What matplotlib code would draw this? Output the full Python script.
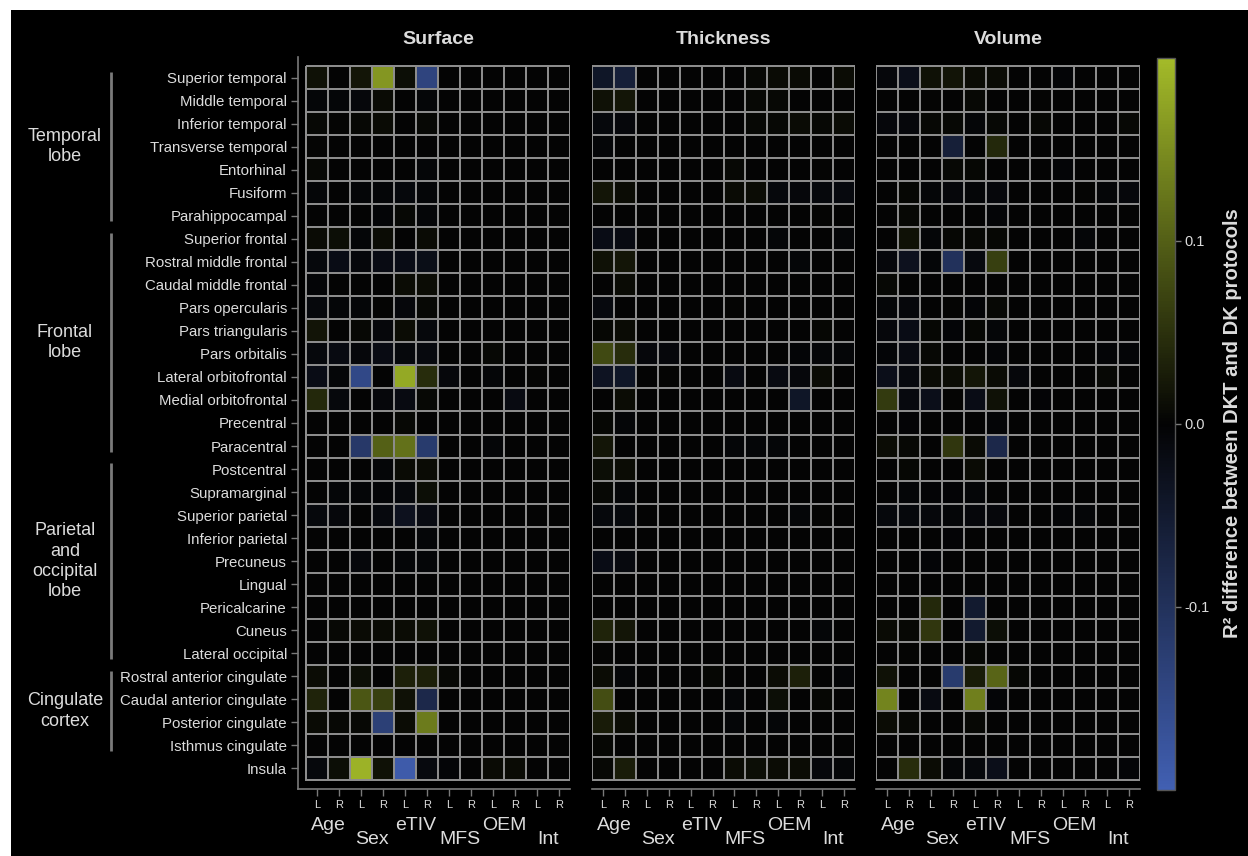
import matplotlib
matplotlib.use("Agg")
import matplotlib.pyplot as plt
import numpy as np
from matplotlib.colors import LinearSegmentedColormap
from matplotlib.patches import Rectangle
from matplotlib.transforms import blended_transform_factory

plt.rcParams['font.family'] = ['Liberation Sans', 'DejaVu Sans']

# ---------------------------------------------------------------- data
regions = [
    "Superior temporal", "Middle temporal", "Inferior temporal", "Transverse temporal",
    "Entorhinal", "Fusiform", "Parahippocampal",
    "Superior frontal", "Rostral middle frontal", "Caudal middle frontal",
    "Pars opercularis", "Pars triangularis", "Pars orbitalis", "Lateral orbitofrontal",
    "Medial orbitofrontal", "Precentral", "Paracentral",
    "Postcentral", "Supramarginal", "Superior parietal", "Inferior parietal",
    "Precuneus", "Lingual", "Pericalcarine", "Cuneus", "Lateral occipital",
    "Rostral anterior cingulate", "Caudal anterior cingulate", "Posterior cingulate",
    "Isthmus cingulate", "Insula",
]
predictors = ["Age", "Sex", "eTIV", "MFS", "OEM", "Int"]
hemis = ["L", "R"]
panel_titles = ["Surface", "Thickness", "Volume"]

lobe_names = ["Temporal\nlobe", "Frontal\nlobe", "Parietal\nand\noccipital\nlobe", "Cingulate\ncortex"]
lobe_first = [0, 7, 17, 26]
lobe_last = [6, 16, 25, 29]

# columns: Age L/R, Sex L/R, eTIV L/R, MFS L/R, OEM L/R, Int L/R
surface_vals = [
    [0.015, 0, 0.02, 0.16, 0.012, -0.14, 0, 0, 0, 0, 0, 0],
    [-0.005, -0.005, -0.008, 0.008, 0, -0.006, 0, 0, 0, 0, 0, 0],
    [0.005, 0.003, 0.006, 0.008, 0, 0.006, 0, 0, 0, 0, 0, 0],
    [0.003, 0, 0, 0, 0, 0, 0, 0, 0, 0, 0, 0],
    [0.006, 0, 0, 0, 0, -0.006, 0, 0, 0, 0, 0, 0],
    [-0.006, 0, -0.006, -0.005, -0.01, -0.005, 0, 0, 0, 0, 0, 0],
    [0, 0, 0, -0.004, 0.006, -0.005, 0, 0, 0, 0, 0, 0],
    [0.008, 0.012, -0.006, 0.01, 0, 0.008, 0, 0, 0, 0, 0, 0],
    [-0.01, -0.02, -0.008, -0.018, -0.02, -0.022, 0, 0, 0, 0, 0, 0],
    [-0.004, 0, 0, 0, 0.01, 0.01, 0, 0, 0, 0, 0, 0],
    [-0.01, -0.005, -0.006, 0.003, -0.008, 0.006, 0, 0, 0, 0, 0, 0],
    [0.018, 0, 0.006, -0.008, 0.01, -0.01, 0, 0, 0, 0, 0, 0],
    [-0.01, -0.015, -0.008, -0.018, -0.01, -0.012, 0, 0, 0.006, 0, 0, 0],
    [-0.02, -0.005, -0.15, 0, 0.18, 0.045, -0.008, 0, -0.006, 0, 0.003, 0],
    [0.04, -0.01, 0, -0.008, -0.015, 0.006, 0, 0, 0, -0.015, 0, 0],
    [0, 0, 0, 0, 0.006, 0, 0, 0, 0, 0, 0, 0],
    [0, 0, -0.115, 0.1, 0.12, -0.12, 0, 0, -0.005, 0, 0, 0],
    [0, 0, 0, -0.006, 0.008, 0.008, 0, 0, 0, 0, 0, 0],
    [0, -0.005, -0.006, -0.004, -0.01, 0.012, 0, 0, 0, 0, 0, 0],
    [-0.01, -0.008, 0, -0.012, -0.03, -0.015, 0, 0, 0, 0, 0, 0],
    [0, 0, 0, 0, 0, -0.005, 0, 0, 0, 0, 0, 0],
    [0, 0, -0.008, 0, -0.005, -0.006, 0, 0, 0, 0, 0, 0],
    [0, 0, 0, 0, 0, 0, 0, 0, 0, 0, 0, 0],
    [0, 0, 0, 0, 0, 0, 0, 0, 0, 0, 0, 0],
    [0, 0.006, 0.008, 0.008, 0.01, 0.015, 0, 0, 0, 0, 0, 0],
    [0, 0, 0, 0, 0, 0, 0, 0, 0, 0, 0, 0],
    [0.01, 0, 0.012, 0, 0.03, 0.03, 0.005, 0, 0, 0, 0, 0],
    [0.035, 0, 0.09, 0.065, 0.015, -0.08, 0, 0, 0, 0, 0, 0],
    [0.008, 0.006, 0.005, -0.13, 0.01, 0.13, 0, 0, 0, 0, 0, 0],
    [0, 0, 0, 0, 0, 0, 0, 0, 0, 0, 0, 0],
    [-0.01, 0.012, 0.19, 0.015, -0.19, -0.012, -0.004, 0, 0.008, 0.008, 0, 0],
]

thickness_vals = [
    [-0.04, -0.06, 0, 0, 0, 0, 0, 0.006, 0.008, 0.008, 0, 0.01],
    [0.015, 0.02, 0, 0, 0, 0, 0, 0.006, 0.006, 0, 0, 0],
    [-0.01, -0.008, 0, 0, 0, 0, 0, 0.006, 0.006, 0.008, 0.006, 0.008],
    [-0.006, 0, 0, 0, 0, 0, 0, 0, 0, 0, 0, 0],
    [0, 0, 0, 0, 0, 0, 0.006, 0, 0, 0, 0.003, 0],
    [0.02, 0.01, 0, 0, 0, 0, 0.008, 0.01, -0.01, -0.008, -0.01, -0.012],
    [0, 0, 0, 0, 0, 0, 0, 0, 0, 0, 0.003, 0],
    [-0.02, -0.015, 0, 0, 0, 0, 0, 0, -0.005, 0, 0, -0.005],
    [0.015, 0.02, 0, 0, 0, 0, 0, 0, 0, -0.006, 0, 0],
    [0, 0.008, 0, 0, 0, 0, 0, 0, 0, 0, 0, 0],
    [-0.012, 0, 0, 0, 0, 0, 0.003, 0, 0, 0, 0, 0],
    [0.004, 0.008, 0, 0, 0, 0, 0, 0, 0, 0, 0.004, 0],
    [0.075, 0.045, -0.008, -0.008, 0, 0, 0, 0, 0, -0.004, -0.006, -0.006],
    [-0.035, -0.04, 0, 0.003, 0, 0, -0.015, 0, -0.015, -0.008, 0.008, 0],
    [0, 0.01, 0, 0, 0, 0, 0, 0, 0, -0.04, 0, 0],
    [0.004, -0.006, 0, 0, 0, 0, 0, 0, 0, 0, 0, 0],
    [0.02, 0, 0, 0, 0, 0, -0.006, -0.006, -0.006, 0, 0, 0],
    [0.012, 0.01, 0, 0, 0, 0, 0, 0, 0, 0, 0, 0],
    [0.006, -0.006, 0, 0, 0, 0, 0, 0, 0, 0, 0, 0],
    [-0.01, -0.01, 0, 0, 0, 0, 0, 0, 0, -0.006, 0.003, 0],
    [0, 0, 0, 0, 0, 0, 0, 0, 0, 0, 0, 0],
    [-0.02, -0.012, 0, 0, 0, 0, 0, 0, 0, 0, 0, 0],
    [0, 0, 0, 0, 0, 0, 0, 0, 0, 0, 0, 0],
    [0, 0, 0, 0, 0, 0, 0, 0, 0, 0, 0, 0],
    [0.035, 0.02, 0, 0, 0, 0, 0, 0, 0, 0, -0.005, 0],
    [0.003, 0, 0, 0, 0, 0, 0, 0, 0, 0, 0, 0],
    [0.01, -0.006, 0, 0, 0, 0.004, 0, 0, 0.01, 0.03, 0, -0.004],
    [0.08, 0, 0, 0, 0, 0, -0.005, 0, 0.012, 0, 0.004, 0],
    [0.025, 0.01, 0, 0, 0, 0, -0.005, 0, -0.005, 0, 0, 0],
    [0.004, 0, 0, 0, 0, 0, 0, 0, 0, 0, 0, 0],
    [0.006, 0.028, 0, 0, 0, 0, 0.01, 0.012, 0.01, 0.01, -0.008, -0.006],
]

volume_vals = [
    [-0.008, -0.025, 0.015, 0.018, 0.01, 0.008, 0, 0, -0.004, 0, 0, 0],
    [0, 0, 0.003, 0, 0.006, 0, 0, 0.003, 0, 0, 0, 0],
    [-0.008, -0.008, 0.006, 0.006, -0.006, 0.005, 0, 0.005, 0, 0, 0, 0.006],
    [0, 0, 0, -0.06, 0, 0.04, 0, 0, 0, 0, 0, 0],
    [0, 0, 0, 0.006, 0.004, 0, 0, 0, -0.004, 0, 0, 0],
    [0, 0.004, -0.006, -0.008, -0.006, -0.008, 0, 0, 0, 0.003, -0.005, -0.008],
    [0, 0.006, 0, 0, 0, -0.004, 0, 0, 0, 0, 0, 0],
    [0, 0.015, -0.006, 0.004, 0.006, 0.004, 0, 0, 0, -0.005, 0, 0],
    [-0.008, -0.03, -0.006, -0.1, -0.012, 0.065, 0, 0, 0, 0, 0, 0],
    [0.006, 0, 0, 0, 0, 0, 0, 0, 0, 0, 0, 0],
    [-0.006, -0.008, 0, 0.003, -0.004, 0.005, 0, 0, 0, 0, 0, 0],
    [-0.008, -0.02, 0.004, -0.004, 0.004, -0.006, 0, 0, 0, 0, 0, 0],
    [-0.004, -0.015, 0.006, 0, 0, -0.004, 0, 0, 0, 0, -0.004, -0.004],
    [-0.025, -0.012, 0.008, 0.01, 0.02, 0.008, -0.008, 0, 0, 0, 0.005, 0],
    [0.06, -0.012, -0.025, 0.003, -0.02, 0.015, 0, -0.003, 0, 0, 0, 0],
    [0, -0.003, 0, 0, 0, -0.004, 0, 0, 0, 0, 0, 0],
    [0.01, 0.006, 0, 0.055, 0.008, -0.08, 0, 0, 0, 0, 0, 0],
    [0, 0.004, 0, 0, 0.008, 0, 0, 0, 0, 0, 0, 0],
    [0, -0.006, -0.003, -0.003, -0.006, 0, 0, 0, 0, 0, 0, 0],
    [-0.01, -0.01, -0.008, -0.006, -0.008, -0.008, 0, 0, -0.004, -0.006, 0, 0],
    [0, 0, 0, -0.003, 0, 0, 0, 0, 0, 0, 0, 0],
    [0, 0, -0.004, 0, 0, 0, 0, 0, 0, 0, 0, 0],
    [0, 0, 0, 0, 0, 0, 0, 0, 0, 0, 0, 0],
    [0, 0, 0.04, 0, -0.05, 0, 0, 0, 0, 0, 0, 0],
    [0.008, 0.006, 0.055, 0, -0.05, 0.012, 0, 0, 0, 0, 0, 0],
    [0, 0.003, 0, 0, 0.004, 0, 0, 0, 0, 0, 0, 0],
    [0.015, 0, 0, -0.12, 0.025, 0.105, 0.004, 0, 0, 0, 0, 0],
    [0.14, 0, -0.015, 0, 0.135, -0.004, 0, 0, 0, 0, 0, 0],
    [0.01, 0.006, 0, 0, 0.006, 0, 0, 0, 0, 0, 0, 0],
    [0, 0, 0, 0, 0, 0, 0, 0, 0, 0, 0, 0],
    [0, 0.045, 0.01, -0.006, -0.01, -0.025, 0, 0, 0, 0, 0, -0.004],
]

# ---------------------------------------------------------------- style
TXT = "#dcdcdc"
LINE = "#8c8c8c"
SPINE = "#7a7a7a"
vmin, vmax = -0.2, 0.2
cmap = LinearSegmentedColormap.from_list(
    "blue_black_olive",
    [(0.0, (0.255, 0.375, 0.70)),
     (0.5, (0.012, 0.012, 0.014)),
     (1.0, (0.64, 0.73, 0.16))])

W, H = 1248, 856
fig = plt.figure(figsize=(W / 100, H / 100), dpi=100, facecolor="white")
fig.add_artist(Rectangle((11 / W, 0), 1 - 11 / W, (H - 10) / H,
                         transform=fig.transFigure, facecolor="black",
                         edgecolor="none", zorder=-10))


def fx(px):
    return px / W


def fy(py):
    return 1 - py / H


n_rows = len(regions)
n_cols = len(predictors) * len(hemis)
cell_h = (780 - 66) / n_rows
pad_rows = 9 / cell_h
ax_top, ax_bot = 57, 789

grid_lefts = [306, 592, 876]
grid_rights = [570, 855, 1140]
panels = [surface_vals, thickness_vals, volume_vals]

col_labels = [h for _ in predictors for h in hemis]
axes = []
for i, (vals, title) in enumerate(zip(panels, panel_titles)):
    gl, gr = grid_lefts[i], grid_rights[i]
    cell_w = (gr - gl) / n_cols
    left_px = 298 if i == 0 else gl
    ax = fig.add_axes([fx(left_px), fy(ax_bot), fx(gr - left_px), (ax_bot - ax_top) / H])
    ax.set_facecolor("none")
    data = np.array(vals, dtype=float)
    mesh = ax.pcolormesh(np.arange(n_cols + 1), np.arange(n_rows + 1), data,
                         cmap=cmap, vmin=vmin, vmax=vmax,
                         edgecolors=LINE, linewidth=1.2)
    ax.set_xlim(-(gl - left_px) / cell_w, n_cols)
    ax.set_ylim(n_rows + pad_rows, -pad_rows)

    for s in ["top", "right"]:
        ax.spines[s].set_visible(False)
    ax.spines["bottom"].set_color(SPINE)
    ax.spines["bottom"].set_linewidth(1.2)
    if i == 0:
        ax.spines["left"].set_color(SPINE)
        ax.spines["left"].set_linewidth(1.2)
        ax.set_yticks(np.arange(n_rows) + 0.5)
        ax.set_yticklabels(regions, fontsize=10.8, color=TXT)
        ax.tick_params(axis="y", length=5, width=1, color=SPINE, pad=3)
    else:
        ax.spines["left"].set_visible(False)
        ax.set_yticks([])

    ax.set_xticks(np.arange(n_cols) + 0.5)
    ax.set_xticklabels(col_labels, fontsize=8, color=TXT)
    ax.tick_params(axis="x", length=5, width=1, color=SPINE, pad=3)

    # predictor names, staggered on two levels
    trans = blended_transform_factory(ax.transData, fig.transFigure)
    for k, name in enumerate(predictors):
        ypx = 826 if k % 2 == 0 else 839
        ax.text(2 * k + 1, fy(ypx), name, transform=trans, ha="center", va="center",
                fontsize=14, color=TXT)

    ax.text(n_cols / 2, fy(40), title, transform=trans, ha="center", va="center",
            fontsize=14, fontweight="bold", color=TXT)
    axes.append(ax)

# lobe brackets and names on the left
ax0 = axes[0]
tr = blended_transform_factory(fig.transFigure, ax0.transData)
for name, a, b in zip(lobe_names, lobe_first, lobe_last):
    ax0.plot([fx(111), fx(111)], [a + 0.25, b + 1 - 0.25], transform=tr,
             color=SPINE, linewidth=2, clip_on=False, solid_capstyle="butt")
    ax0.text(fx(65), (a + b + 1) / 2, name, transform=tr, ha="center", va="center",
             fontsize=13, color=TXT, linespacing=1.25)

# colorbar
cax = fig.add_axes([fx(1157), fy(790), fx(18), (790 - 58) / H])
cb = fig.colorbar(mesh, cax=cax)
cb.set_ticks([-0.1, 0.0, 0.1])
cb.set_ticklabels(["-0.1", "0.0", "0.1"])
cb.outline.set_edgecolor("#555555")
cb.outline.set_linewidth(1)
cax.tick_params(axis="y", length=4, width=1, color=SPINE, labelsize=10.5,
                labelcolor=TXT, pad=3)
fig.text(fx(1233), fy(423), "R² difference between DKT and DK protocols",
         rotation=90, ha="center", va="center", fontsize=14.5, fontweight="bold",
         color=TXT)

fig.savefig("out.png", dpi=100, facecolor="white")
